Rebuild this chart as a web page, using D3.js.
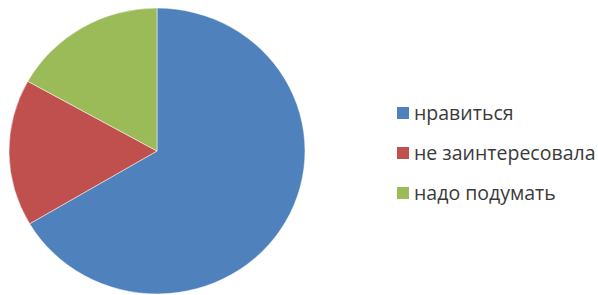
<!DOCTYPE html>
<html>
<head>
<meta charset="utf-8">
<script src="https://cdn.jsdelivr.net/npm/d3@7"></script>
<style>
  body { margin: 0; background: #fff; }
</style>
</head>
<body>
<div id="chart"></div>
<script>
const categories = ["нравиться", "не заинтересовала", "надо подумать"]
const values = [66.5, 16.6, 16.9]
const colors = ["#4f81bd", "#c0504d", "#9bbb59"]

const width = 598
const height = 295

const svg = d3.select("#chart")
  .append("svg")
  .attr("width", width)
  .attr("height", height)

const cx = 157
const cy = 151
const radius = 148

const pie = d3.pie()
  .sort(null)
  .value(d => d)

const arc = d3.arc()
  .innerRadius(0)
  .outerRadius(radius)

const color = d3.scaleOrdinal()
  .domain(categories)
  .range(colors)

// the source picture is a little squashed vertically
const g = svg.append("g")
  .attr("transform", `translate(${cx},${cy}) scale(1,0.966)`)

g.selectAll("path")
  .data(pie(values))
  .enter()
  .append("path")
  .attr("d", arc)
  .attr("fill", (d, i) => color(categories[i]))
  .attr("stroke", "#fff")
  .attr("stroke-width", 0.5)

// legend
const legendY = d3.scalePoint()
  .domain(categories)
  .range([113, 193])

const legend = svg.append("g")
  .selectAll("g")
  .data(categories)
  .enter()
  .append("g")
  .attr("transform", d => `translate(397,${legendY(d)})`)

legend.append("rect")
  .attr("x", 0)
  .attr("y", -6)
  .attr("width", 12)
  .attr("height", 12)
  .attr("fill", d => color(d))

legend.append("text")
  .attr("x", 17)
  .attr("y", 0)
  .attr("dy", "0.35em")
  .style("font-family", "'Open Sans', sans-serif")
  .style("font-size", "19.5px")
  .style("fill", "#3a3a3a")
  .text(d => d)
</script>
</body>
</html>
